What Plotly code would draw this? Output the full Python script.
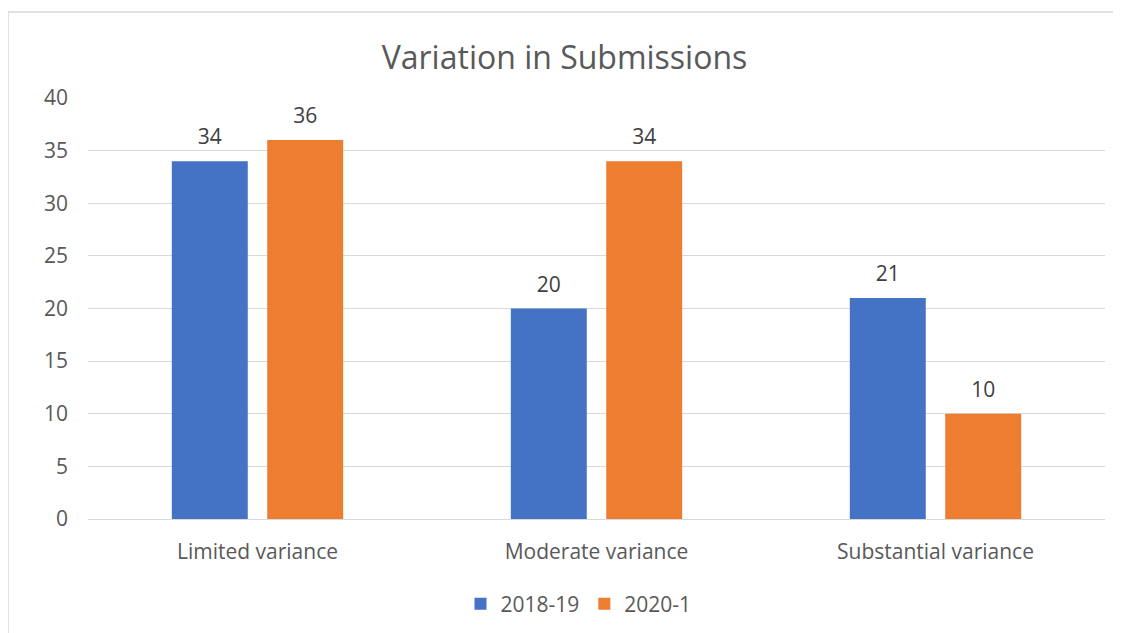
import plotly.graph_objects as go

categories = ["Limited variance", "Moderate variance", "Substantial variance"]
series_names = ["2018-19", "2020-1"]
values_2018_19 = [34, 20, 21]
values_2020_1 = [36, 34, 10]
colors = ["#4472C4", "#ED7D31"]
y_ticks = [0, 5, 10, 15, 20, 25, 30, 35, 40]

font_family = "Open Sans, Liberation Sans, sans-serif"
BARGAP = 0.437

fig = go.Figure()
for i, (name, vals, col) in enumerate(zip(series_names, [values_2018_19, values_2020_1], colors)):
    fig.add_trace(go.Bar(
        x=categories, y=vals, name=name, offsetgroup=str(i),
        marker=dict(color=col, line=dict(width=0)),
    ))
for i, (name, vals) in enumerate(zip(series_names, [values_2018_19, values_2020_1])):
    # data labels, grouped like the bars
    fig.add_trace(go.Scatter(
        x=categories, y=vals, name=name, offsetgroup=str(i), mode="markers+text",
        text=[str(v) for v in vals], textposition="top center",
        textfont=dict(size=21, color="#404040", family=font_family),
        marker=dict(size=17, opacity=0), showlegend=False, hoverinfo="skip",
        cliponaxis=False,
    ))

# page body has an 8px margin: figure origin sits at (8, 8) in the window
OFF = 8
W, H = 1113, 625
L, R, T, B = 88 - OFF, 1113 - (1105 - OFF), 98 - OFF, 625 - (519 - OFF)
pw, ph = W - L - R, H - T - B

def px(x):
    return (x - OFF - L) / pw

def py(y):
    return (T + ph - (y - OFF)) / ph

fig.update_layout(
    width=W, height=H,
    margin=dict(l=L, r=R, t=T, b=B, autoexpand=False),
    paper_bgcolor="white", plot_bgcolor="white",
    barmode="group", bargap=BARGAP, bargroupgap=0.204,
    scattermode="group", scattergap=BARGAP,
    title=dict(text="Variation in Submissions", x=0.5, xanchor="center",
               y=1 - (58 - OFF) / H, yanchor="middle",
               font=dict(size=32, color="#595959", family=font_family)),
    font=dict(family=font_family, color="#595959", size=21),
    showlegend=True,
    legend=dict(orientation="h", x=0.5 - 18 / pw, xanchor="center", y=py(604), yanchor="middle",
                font=dict(size=21, color="#595959"), itemwidth=30,
                traceorder="normal"),
    xaxis=dict(showgrid=False, showline=False, ticks="", automargin=False,
               tickfont=dict(size=21, color="#595959"), ticklabelstandoff=18),
    yaxis=dict(range=[0, 40], tickvals=y_ticks, showgrid=True, gridcolor="#D9D9D9",
               gridwidth=1, zeroline=True, zerolinecolor="#D9D9D9", zerolinewidth=1,
               showline=False, ticks="", automargin=False,
               tickfont=dict(size=21, color="#595959"), ticklabelstandoff=19),
    shapes=[dict(type="rect", xref="paper", yref="paper",
                 x0=px(8), x1=px(1140), y0=py(650), y1=py(12),
                 line=dict(color="#D9D9D9", width=1.5), fillcolor="rgba(0,0,0,0)",
                 layer="below")],
)

fig.write_html("out.html")
